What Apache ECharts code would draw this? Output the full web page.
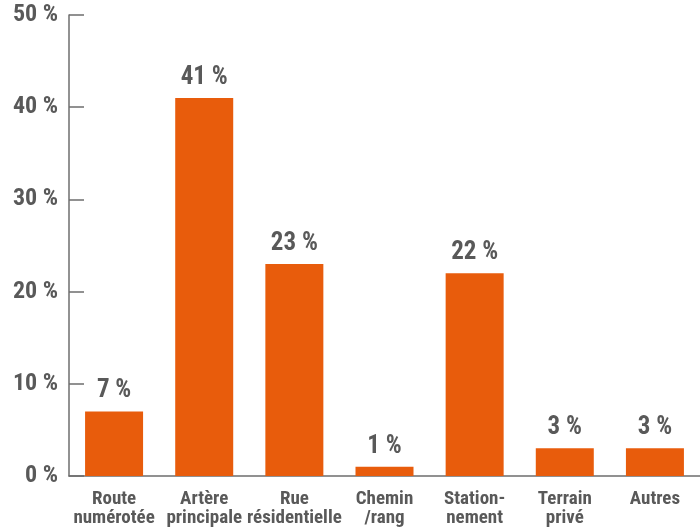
<!DOCTYPE html>
<html><head><meta charset="utf-8">
<script src="https://cdn.jsdelivr.net/npm/echarts@6/dist/echarts.min.js"></script>
<style>html,body{margin:0;padding:0;background:#fff}#c{width:700px;height:529px}</style>
</head><body><div id="c"></div>
<script>
const categories = ["Route\nnumérotée","Artère\nprincipale","Rue\nrésidentielle","Chemin\n/rang","Station-\nnement","Terrain\nprivé","Autres"];
const values = [7, 41, 23, 1, 22, 3, 3];
const yTicks = [0, 10, 20, 30, 40, 50];
const FONT = "'Liberation Sans Narrow', 'Roboto Condensed', Roboto, sans-serif";
const TXT = '#595959';
const chart = echarts.init(document.getElementById('c'));
chart.setOption({
  animation: false,
  grid: {left: 69, right: 0, top: 15, bottom: 53},
  xAxis: {
    type: 'category', data: categories,
    axisLine: {lineStyle: {color: '#6e6e6e', width: 1.5}},
    axisTick: {inside: true, length: 10, lineStyle: {color: '#6e6e6e', width: 1.5}},
    axisLabel: {color: TXT, fontFamily: FONT, fontWeight: 'bold', fontSize: 19, lineHeight: 19, margin: 14, interval: 0}
  },
  yAxis: {
    type: 'value', min: yTicks[0], max: yTicks[yTicks.length-1], interval: 10,
    axisLine: {show: true, lineStyle: {color: '#6e6e6e', width: 1.5}},
    axisTick: {show: true, inside: true, length: 15, lineStyle: {color: '#6e6e6e', width: 1.5}},
    splitLine: {show: false},
    axisLabel: {color: TXT, fontFamily: FONT, fontWeight: 'bold', fontSize: 24, margin: 11,
      formatter: v => v + ' %'}
  },
  series: [{
    type: 'bar', data: values, barWidth: 58,
    itemStyle: {color: '#e85c0c'},
    label: {show: true, position: 'top', distance: 8, color: TXT, fontFamily: FONT, fontWeight: 'bold', fontSize: 25,
      formatter: p => p.value + ' %'}
  }]
});
</script></body></html>
